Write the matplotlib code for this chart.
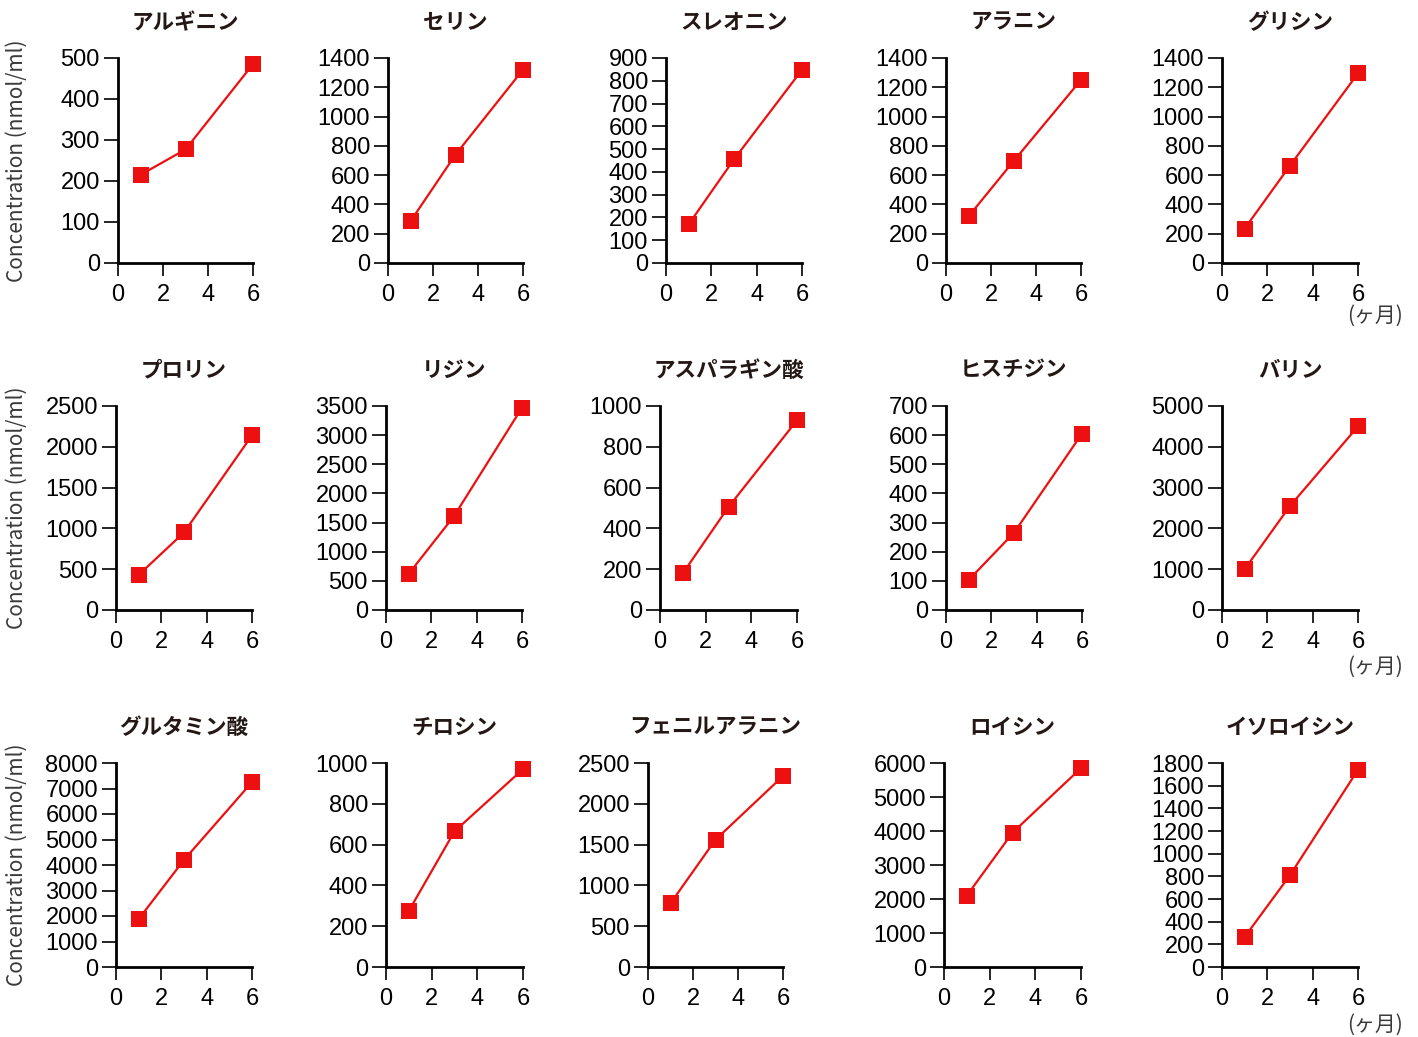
import matplotlib
matplotlib.use("Agg")
import matplotlib.pyplot as plt

# データ (月, 濃度 nmol/ml)
months = [1, 3, 6]

names = [
    ["アルギニン", "セリン", "スレオニン", "アラニン", "グリシン"],
    ["プロリン", "リジン", "アスパラギン酸", "ヒスチジン", "バリン"],
    ["グルタミン酸", "チロシン", "フェニルアラニン", "ロイシン", "イソロイシン"],
]

values = [
    [[215, 277, 485], [285, 740, 1320], [170, 455, 848], [318, 695, 1250], [235, 665, 1295]],
    [[430, 950, 2140], [620, 1610, 3470], [180, 505, 930], [103, 265, 605], [1000, 2550, 4500]],
    [[1880, 4200, 7250], [275, 665, 970], [780, 1560, 2340], [2100, 3950, 5850], [265, 810, 1740]],
]

# y軸 (最大値, 目盛間隔)
yscales = [
    [(500, 100), (1400, 200), (900, 100), (1400, 200), (1400, 200)],
    [(2500, 500), (3500, 500), (1000, 200), (700, 100), (5000, 1000)],
    [(8000, 1000), (1000, 200), (2500, 500), (6000, 1000), (1800, 200)],
]

xticks = [0, 2, 4, 6]

# レイアウト (ピクセル)
W, H = 1418, 1037
rows_px = [(58, 263), (406, 610), (763, 967)]
unit_y = [316, 667, 1025]
cols_px = [
    [(118, 253), (388, 523), (666, 802), (946, 1081), (1222, 1358)],
    [(116, 252), (386, 522), (660, 797), (946, 1082), (1222, 1358)],
    [(116, 252), (386, 523), (648, 783), (944, 1081), (1222, 1358)],
]

red = "#ec1010"
textcol = "#231815"
jp = ["Noto Sans CJK JP", "DejaVu Sans"]

fig = plt.figure(figsize=(W / 100, H / 100), dpi=100)

for r in range(3):
    top, bot = rows_px[r]
    for c in range(5):
        x0, x1 = cols_px[r][c]
        ax = fig.add_axes([x0 / W, 1 - bot / H, (x1 - x0) / W, (bot - top) / H])
        ax.plot(months, values[r][c], color=red, lw=1.6, marker="s",
                markersize=11.5, markeredgewidth=0, clip_on=False, zorder=3)
        ymax, step = yscales[r][c]
        ax.set_ylim(0, ymax)
        ax.set_xlim(0, 6)
        ax.set_yticks(list(range(0, ymax + 1, step)))
        ax.set_xticks(xticks)
        for s in ["top", "right"]:
            ax.spines[s].set_visible(False)
        for s in ["left", "bottom"]:
            ax.spines[s].set_linewidth(2.0)
            ax.spines[s].set_color("black")
        ax.tick_params(axis="y", length=10, width=1.2, pad=3, labelsize=17)
        ax.tick_params(axis="x", length=9, width=1.2, pad=6, labelsize=17)
        for lab in ax.get_xticklabels() + ax.get_yticklabels():
            lab.set_fontfamily("Liberation Sans")
        ax.set_title(names[r][c], fontsize=15.5, fontweight="bold", color=textcol,
                     family=jp, pad=21)

    # 縦軸ラベル
    fig.text(17 / W, 1 - (top + bot) / 2 / H, "Concentration (nmol/ml)", rotation=90,
             ha="center", va="center", fontsize=15, color="#3a3a3a", family=jp)
    # 単位
    fig.text(1375 / W, 1 - unit_y[r] / H, "(ヶ月)", ha="center", va="center",
             fontsize=15, color="#3a3a3a", family=jp)

fig.savefig("out.png", dpi=100)
